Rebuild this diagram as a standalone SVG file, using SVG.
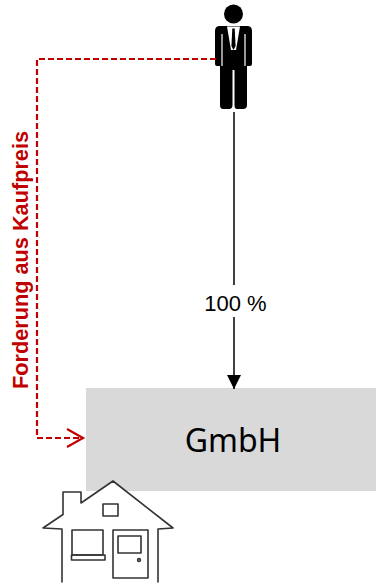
<svg xmlns="http://www.w3.org/2000/svg" width="377" height="583" viewBox="0 0 377 583">
  <style>
    .claim { fill: none; stroke: #C00000; stroke-width: 2.2; stroke-dasharray: 6 3; }
    .claim-head { fill: none; stroke: #C00000; stroke-width: 2.2; }
    .link { fill: none; stroke: #000; stroke-width: 1.5; }
    .sketch { fill: none; stroke: #333; stroke-width: 1.6; stroke-linejoin: round; stroke-linecap: round; }
    .label { font-family: "Liberation Sans", Arial, sans-serif; font-size: 22px; fill: #000; }
  </style>
  <defs>
    <marker id="solidHead" markerWidth="16" markerHeight="14" refX="14" refY="7" orient="auto" markerUnits="userSpaceOnUse">
      <path d="M0,0 L14,7 L0,14 Z" fill="#000"/>
    </marker>
  </defs>

  <rect width="377" height="583" fill="#fff"/>

  <!-- company box -->
  <g id="gmbh">
    <rect x="86" y="388" width="290" height="103" fill="#D9D9D9"/>
    <text x="233" y="452" text-anchor="middle" font-family="'Noto Sans', 'Open Sans', sans-serif" font-size="32" fill="#000">GmbH</text>
  </g>

  <!-- property owned by the company -->
  <g id="house" fill="#fff">
    <path d="M62,583 L62,529 L43,528 L63,514 L63,492 L81,492 L81,503 L113,481 L173,528 L158,529 L158,583 Z" fill="#fff" stroke="none"/>
    <path class="sketch" d="M62,582 L62,529 L43,528 L63,514.5 L63,492 L81,492 L81,503 L113,481 L173,528 L158,529 L158,582"/>
    <rect class="sketch" x="103" y="504" width="15" height="12"/>
    <rect class="sketch" x="72" y="530" width="31" height="25"/>
    <rect class="sketch" x="71.5" y="555" width="33.5" height="5"/>
    <rect class="sketch" x="113" y="530" width="35" height="48"/>
    <rect class="sketch" x="118" y="536" width="23" height="17"/>
    <circle class="sketch" cx="139" cy="560" r="1.4"/>
  </g>

  <!-- shareholder -->
  <g id="shareholder">
    <circle cx="233.5" cy="14" r="9.5" fill="#000"/>
    <path d="M220,26 L247,26 Q252,26 252,31 L252,64 Q252,66 250,66 L247,66 L247,105 Q247,109 243,109 L237,109 Q234.5,109 234.5,105 L234.5,70 L232.5,70 L232.5,105 Q232.5,109 229,109 L223,109 Q220,109 220,105 L220,66 L217,66 Q215,66 215,64 L215,31 Q215,26 220,26 Z" fill="#000"/>
    <path d="M222,34 L222,66 M245,34 L245,66" stroke="#fff" stroke-width="1.2"/>
    <path d="M227,26.5 L240,26.5 L236,50 L231,50 Z" fill="#fff"/>
    <path d="M232.3,28.5 L234.7,28.5 L235.6,46 L233.5,50 L231.4,46 Z" fill="#000"/>
  </g>

  <!-- connectors -->
  <g id="connectors">
    <path class="link" d="M234,112 L234,285"/>
    <path class="link" d="M234,317 L234,389" marker-end="url(#solidHead)"/>
    <text class="label" x="235.5" y="311" text-anchor="middle">100 %</text>

    <path class="claim" d="M216,59 L37,59 L37,438 L82,438"/>
    <path class="claim-head" d="M67,429 L83,438 L67,447"/>
    <text transform="translate(28,260) rotate(-90)" x="0" y="0" text-anchor="middle" font-family="'Liberation Sans', Arial, sans-serif" font-weight="bold" font-size="22" fill="#C00000" textLength="258" lengthAdjust="spacingAndGlyphs">Forderung aus Kaufpreis</text>
  </g>
</svg>
